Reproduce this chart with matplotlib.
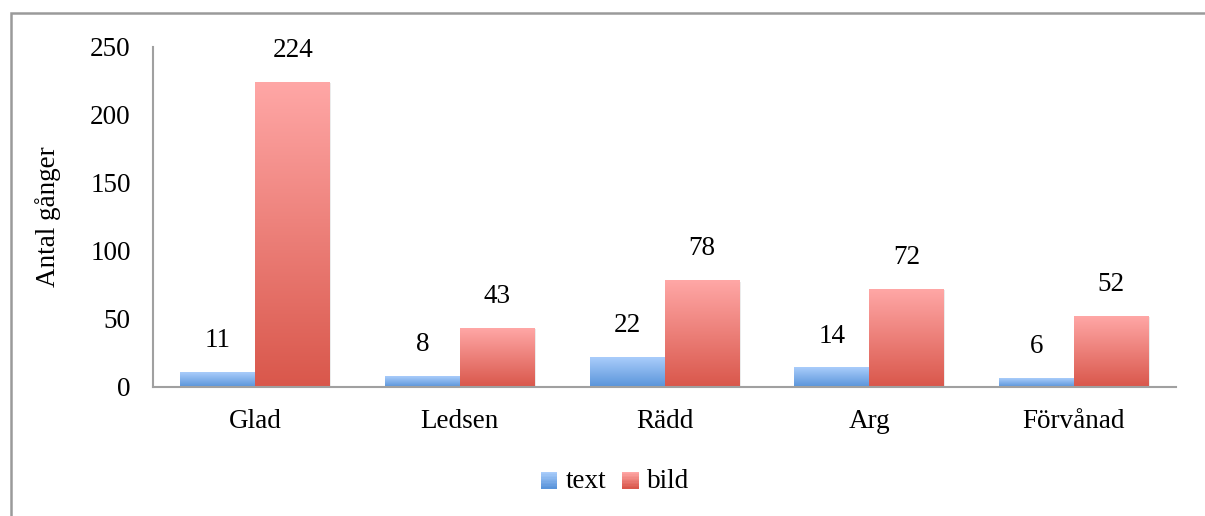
import matplotlib
matplotlib.use("Agg")
import matplotlib.pyplot as plt
import matplotlib.patches as patches
from matplotlib.colors import LinearSegmentedColormap
from matplotlib.legend_handler import HandlerBase
import numpy as np

categories = ["Glad", "Ledsen", "Rädd", "Arg", "Förvånad"]
text_vals = [11, 8, 22, 14, 6]
bild_vals = [224, 43, 78, 72, 52]
series_names = ["text", "bild"]

# gradient top -> bottom
blue_grad = ["#aacdfb", "#5994da"]
red_grad = ["#ffa7a6", "#d9574b"]

plt.rcParams["font.family"] = ["Liberation Serif", "DejaVu Serif"]
FS = 19.5

fig = plt.figure(figsize=(12.05, 5.16), dpi=100)
ax = fig.add_axes([153 / 1205, 1 - 387 / 516, (1176 - 153) / 1205, 340 / 516])

x = np.arange(len(categories))
w = 0.366
bars_t = ax.bar(x - w / 2, text_vals, w, color="none", edgecolor="none")
bars_b = ax.bar(x + w / 2, bild_vals, w, color="none", edgecolor="none")

grad = np.linspace(0, 1, 256).reshape(-1, 1)
for bars, cols in ((bars_t, blue_grad), (bars_b, red_grad)):
    cmap = LinearSegmentedColormap.from_list("g", cols[::-1])
    for r in bars:
        x0, y0 = r.get_x(), r.get_y()
        x1, y1 = x0 + r.get_width(), y0 + r.get_height()
        # soft shadow
        ax.add_patch(patches.Rectangle((x0 + 0.006, y0), r.get_width(), r.get_height() - 0.6,
                                       facecolor="#000000", alpha=0.08, edgecolor="none", zorder=1))
        ax.imshow(grad, cmap=cmap, extent=(x0, x1, y0, y1), origin="lower",
                  aspect="auto", zorder=2, interpolation="bicubic")
        ax.annotate(f"{int(r.get_height())}", (x0 + r.get_width() / 2, y1),
                    xytext=(0, 14), textcoords="offset points", ha="center",
                    va="bottom", fontsize=FS, color="#000000")

ax.set_xlim(-0.5, len(categories) - 0.5)
ax.set_ylim(0, 250)
ax.set_yticks([0, 50, 100, 150, 200, 250])
ax.set_xticks(x)
ax.set_xticklabels(categories)
ax.tick_params(axis="both", length=0, labelsize=FS, colors="#000000")
ax.tick_params(axis="y", pad=16)
ax.tick_params(axis="x", pad=16)
for s in ("top", "right"):
    ax.spines[s].set_visible(False)
for s in ("left", "bottom"):
    ax.spines[s].set_color("#a0a0a0")
    ax.spines[s].set_linewidth(1.5)
ax.set_ylabel("Antal gånger", fontsize=FS)
ax.yaxis.set_label_coords(-92 / 1023, 0.5)


class GradHandler(HandlerBase):
    def __init__(self, cols):
        super().__init__()
        self.cols = cols

    def create_artists(self, legend, orig, xd, yd, width, height, fontsize, trans):
        cmap = LinearSegmentedColormap.from_list("g", self.cols)
        n = 12
        size = width
        y_top = yd + height / 2 + size / 2 - 1
        arts = []
        for i in range(n):
            c = cmap(i / (n - 1))
            arts.append(patches.Rectangle((xd, y_top - (i + 1) * size / n),
                                          size, size / n + 0.3, facecolor=c, edgecolor="none",
                                          transform=trans))
        return arts


h1 = patches.Rectangle((0, 0), 1, 1, label="text")
h2 = patches.Rectangle((0, 0), 1, 1, label="bild")
fig.legend([h1, h2], series_names, loc="center", bbox_to_anchor=(615 / 1205, 1 - 482 / 516),
           ncol=2, frameon=False, fontsize=FS, handlelength=0.62, handletextpad=0.3,
           columnspacing=0.6,
           handler_map={h1: GradHandler(blue_grad), h2: GradHandler(red_grad)})

# outer chart frame
fig.add_artist(patches.Rectangle((11 / 1205, -0.1), 1.2, 1 - 13 / 516 + 0.1,
                                 transform=fig.transFigure, facecolor="none",
                                 edgecolor="#9a9a9a", linewidth=1.8))

fig.savefig("out.png", dpi=100, facecolor="white")
